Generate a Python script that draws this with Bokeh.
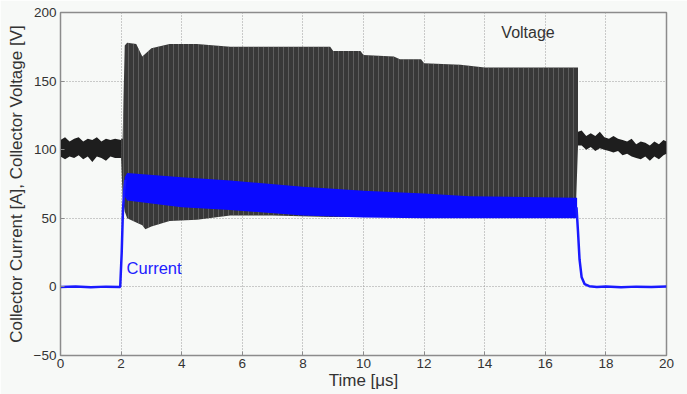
from bokeh.plotting import figure
from bokeh.embed import file_html
from bokeh.resources import INLINE
from bokeh.models import FixedTicker, Range1d
from bokeh.core.properties import value

# ---- data (time in microseconds) ----
# Voltage during switching: envelope of the dense oscillation
v_t = [2.0, 2.05, 2.12, 2.2, 2.5, 2.7, 2.8, 3.0, 3.6, 4.5, 5.6, 7.0, 8.9, 9.0, 9.9, 10.0,
       11.0, 11.2, 11.9, 12.0, 13.2, 14.0, 15.0, 16.0, 17.0, 17.08]
v_hi = [108, 108, 176, 178, 177, 168, 170, 174, 177, 177, 175, 175, 175, 172, 172, 169,
        168, 166, 166, 163, 162, 160, 160, 160, 160, 160]
v_lo = [94, 66, 55, 50, 47, 45, 42, 44, 48, 49, 52, 52, 51, 51, 51, 51,
        51, 51, 51, 51, 51, 51, 51, 51, 51, 103]

# Voltage noise band before and after the pulse
vpre_t = [0.0, 0.15, 0.3, 0.45, 0.6, 0.75, 0.9, 1.05, 1.2, 1.35, 1.5, 1.65, 1.8, 2.0]
vpre_hi = [107, 109, 106, 108, 109, 106, 108, 107, 109, 106, 108, 107, 108, 107]
vpre_lo = [95, 93, 95, 94, 96, 93, 95, 91, 95, 94, 92, 95, 94, 94]
vpost_t = [17.08, 17.2, 17.35, 17.5, 17.65, 17.8, 17.95, 18.1, 18.25, 18.4, 18.55, 18.7,
           18.85, 19.0, 19.15, 19.3, 19.45, 19.6, 19.75, 19.9, 20.0]
vpost_hi = [113, 114, 110, 112, 110, 113, 109, 108, 110, 108, 107, 106, 108, 104, 106,
            105, 103, 106, 104, 107, 106]
vpost_lo = [103, 103, 100, 102, 99, 101, 100, 99, 98, 99, 96, 97, 95, 94, 93, 95,
            92, 95, 93, 96, 97]

# Current band during switching
i_t = [2.12, 2.2, 4.0, 5.6, 8.0, 10.0, 12.0, 13.5, 17.0, 17.05]
i_hi = [80, 83, 80, 77.5, 73, 70, 68, 66, 65, 65]
i_lo = [66, 63, 58, 56, 52, 50.5, 50, 50, 50, 50]

# Current before / during rise and fall
i_line_t = [0.0, 0.5, 1.0, 1.5, 1.97, 2.02, 2.06, 2.1, 2.14]
i_line = [0.0, 0.3, -0.2, 0.2, 0.0, 25, 55, 70, 78]
i_fall_t = [17.03, 17.08, 17.13, 17.2, 17.3, 17.45, 17.7, 18.0, 18.5, 19.0, 19.5, 20.0]
i_fall = [58, 40, 20, 7, 2, 0.5, 0.0, 0.3, -0.3, 0.2, 0.0, 0.3]

x_ticks = [0, 2, 4, 6, 8, 10, 12, 14, 16, 18, 20]
y_ticks = [-50, 0, 50, 100, 150, 200]

FONT = "Liberation Sans"
BG = "#f7f9f7"

p = figure(width=687, height=394, output_backend="svg", toolbar_location=None,
           x_range=Range1d(0, 20), y_range=Range1d(-50, 200),
           min_border_left=60, min_border_right=21, min_border_top=12, min_border_bottom=39)
p.background_fill_color = BG
p.border_fill_color = BG
p.outline_line_color = "#8c8c8c"
p.outline_line_width = 1.5

# grid
for g in (p.xgrid, p.ygrid):
    g.grid_line_color = "#9a9a9a"
    g.grid_line_dash = "1 2"
    g.grid_line_width = 1
p.xaxis.ticker = FixedTicker(ticks=x_ticks)
p.yaxis.ticker = FixedTicker(ticks=y_ticks)

for ax in (p.xaxis[0], p.yaxis[0]):
    ax.axis_line_color = "#8c8c8c"
    ax.major_tick_line_color = "#8c8c8c"
    ax.major_tick_in = 4
    ax.major_tick_out = 0
    ax.minor_tick_line_color = None
    ax.major_label_text_font = FONT
    ax.major_label_text_font_size = "13.5px"
    ax.major_label_text_color = "#333333"
    ax.axis_label_text_font = FONT
    ax.axis_label_text_font_size = "17px"
    ax.axis_label_text_font_style = "normal"
    ax.axis_label_text_color = "#333333"

p.xaxis.axis_label = "Time [\u03bcs]"
p.xaxis.axis_label_standoff = 0
p.xaxis.major_label_standoff = 3
p.yaxis.axis_label = "Collector Current [A], Collector Voltage [V]"
p.yaxis.axis_label_standoff = 5
p.yaxis.major_label_standoff = 4

# voltage
vkw = dict(fill_color="#383838", hatch_pattern="vertical_line", hatch_color="#8a8a8a",
           hatch_alpha=0.45, hatch_scale=5, hatch_weight=1)
p.varea(x=v_t, y1=v_lo, y2=v_hi, **vkw)
p.varea(x=vpre_t, y1=vpre_lo, y2=vpre_hi, fill_color="#1e1e1e")
p.varea(x=vpost_t, y1=vpost_lo, y2=vpost_hi, fill_color="#1e1e1e")

# current
p.varea(x=i_t, y1=i_lo, y2=i_hi, fill_color="#0a0aff")
p.line(x=i_line_t, y=i_line, line_color="#1a1aff", line_width=2.5)
p.line(x=i_fall_t, y=i_fall, line_color="#1a1aff", line_width=2.5)

# labels
p.text(x=[14.55], y=[185.5], text=["Voltage"], text_font=value(FONT), text_font_size="16px",
       text_color="#333333", text_baseline="middle", text_align="left")
p.text(x=[2.18], y=[14], text=["Current"], text_font=value(FONT), text_font_size="16.5px",
       text_color="#2020ff", text_baseline="middle", text_align="left")

open("out.html", "w").write(file_html(p, INLINE))
